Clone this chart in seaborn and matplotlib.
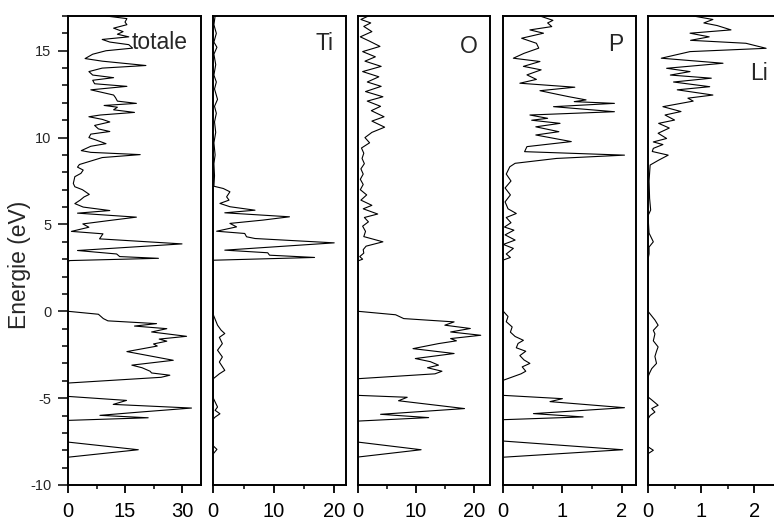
import pandas as pd
import matplotlib.pyplot as plt
import seaborn as sns

# DOS: (energy in eV, density of states) per panel
totale = [
    (17.0, 10), (16.85, 15.5), (16.65, 15), (16.5, 15.5), (16.3, 12), (16.1, 14.5),
    (15.95, 13), (15.8, 16), (15.65, 9), (15.5, 11), (15.35, 16), (15.15, 17),
    (15.0, 10), (14.8, 6.5), (14.55, 4.5), (14.4, 9), (14.15, 20.5), (14.0, 9),
    (13.8, 5.5), (13.6, 6.5), (13.45, 12), (13.3, 6.5), (13.1, 7), (12.95, 15.5),
    (12.75, 6), (12.6, 9), (12.45, 12), (12.3, 12.5), (12.1, 13), (11.97, 18),
    (11.85, 9.5), (11.75, 13), (11.6, 12), (11.45, 17.5), (11.3, 8.5), (11.2, 5.5),
    (11.05, 9), (10.9, 11), (10.7, 7), (10.5, 8), (10.35, 11), (10.2, 6),
    (10.0, 5.5), (9.85, 7.5), (9.65, 10), (9.5, 6), (9.25, 3.5), (9.15, 6),
    (9.02, 19), (8.85, 9), (8.65, 6), (8.45, 3), (8.3, 2.5), (8.13, 4),
    (7.94, 3.4), (7.75, 1.8), (7.36, 1.4), (7.17, 1.8), (7.0, 3.8), (6.73, 5.6),
    (6.58, 4.2), (6.4, 3.2), (6.2, 1.8), (6.0, 4), (5.8, 11), (5.65, 2.5),
    (5.42, 18), (5.23, 11), (5.03, 3.9), (4.84, 5.5), (4.6, 0.9), (4.46, 9.2),
    (4.17, 8.3), (3.88, 30), (3.5, 2.5), (3.3, 12.8), (3.15, 13.6), (3.05, 23.8),
    (2.92, 0.4), (2.85, 0),
    (0.0, 0), (-0.17, 8), (-0.42, 9.3), (-0.55, 10.5), (-0.71, 23.3), (-0.85, 17.5),
    (-1.0, 26), (-1.19, 22), (-1.44, 31.2), (-1.6, 24), (-1.72, 26), (-1.88, 22.5),
    (-2.0, 23.5), (-2.32, 15.5), (-2.82, 27.7), (-3.1, 16.8), (-3.25, 19.5),
    (-3.45, 21.6), (-3.55, 22), (-3.68, 26.8), (-3.8, 24.5), (-4.13, 0),
    (-4.9, 0), (-5.13, 15.4), (-5.36, 11.9), (-5.57, 32.5), (-5.8, 19),
    (-5.99, 8.4), (-6.13, 21.1), (-6.28, 0),
    (-7.53, 0), (-7.97, 18.5), (-8.4, 0),
]

titane = [
    (17.0, 0.3), (16.5, 0.1), (16.0, 0.5), (15.5, 0.1), (15.2, 0.6), (14.8, 0.1),
    (14.2, 0.4), (13.6, 0.1), (13.2, 0.5), (12.8, 0.2), (12.2, 0.7), (11.8, 0.2),
    (11.4, 0.5), (10.9, 0.2), (10.3, 0.4), (9.7, 0.1), (9.0, 0.3), (8.5, 0.1),
    (7.8, 0.2), (7.2, 0.1), (7.07, 1.65), (6.88, 2.75), (6.59, 2.2), (6.4, 2.6),
    (6.21, 1.1), (6.02, 2.75), (5.82, 6.9), (5.67, 1.9), (5.44, 12.6), (5.25, 8.2),
    (5.06, 2.75), (4.86, 3.85), (4.61, 0.55), (4.48, 5.2), (4.29, 5.5), (4.19, 6.9),
    (3.94, 20), (3.52, 1.9), (3.37, 9.0), (3.23, 9.3), (3.1, 16.75), (2.94, 0),
    (-0.2, 0), (-0.8, 0.7), (-1.09, 1.3), (-1.28, 1.9), (-1.5, 1.0), (-1.86, 1.5),
    (-2.24, 0.7), (-2.63, 1.5), (-2.92, 1.0), (-3.4, 1.9), (-3.6, 1.0), (-3.88, 0),
    (-5.0, 0), (-5.51, 0.7), (-5.7, 0.3), (-5.9, 1.1), (-6.09, 0.3), (-6.2, 0),
    (-7.75, 0), (-7.95, 0.6), (-8.2, 0),
]

oxygene = [
    (17.0, 1.8), (16.8, 0.5), (16.6, 2.2), (16.4, 1.0), (16.1, 2.4), (15.8, 0.4),
    (15.55, 2.0), (15.25, 3.8), (14.95, 0.8), (14.65, 3.0), (14.4, 1.2), (14.1, 4.0),
    (13.8, 0.8), (13.5, 3.6), (13.2, 1.6), (12.95, 4.0), (12.65, 1.3), (12.35, 4.3),
    (12.1, 1.6), (11.8, 3.9), (11.55, 2.3), (11.2, 4.5), (10.95, 2.4), (10.6, 4.6),
    (10.3, 2.4), (10.0, 1.2), (9.7, 2.0), (9.4, 0.6), (9.1, 1.0), (8.8, 0.7),
    (8.5, 1.1), (8.2, 0.5), (7.9, 0.9), (7.6, 0.4), (7.3, 0.9), (7.0, 0.4),
    (6.7, 1.5), (6.4, 0.5), (6.1, 2.4), (5.9, 0.9), (5.6, 3.4), (5.4, 1.1),
    (5.15, 1.8), (4.9, 0.8), (4.6, 1.3), (4.3, 1.0), (4.0, 4.3), (3.75, 1.4),
    (3.55, 0.9), (3.35, 1.0), (3.15, 0.3), (3.0, 0.8), (2.9, 0),
    (0.0, 0), (-0.2, 6.5), (-0.42, 7.9), (-0.61, 16.6), (-0.8, 15), (-0.99, 19.4),
    (-1.19, 16), (-1.38, 21.2), (-1.57, 16), (-1.7, 17), (-1.86, 13.9), (-2.15, 9.5),
    (-2.43, 16.6), (-2.72, 9.9), (-2.9, 12.5), (-3.1, 13.9), (-3.25, 12.0),
    (-3.45, 14.5), (-3.6, 13.3), (-3.88, 0),
    (-4.84, 0), (-4.95, 8.5), (-5.15, 7.0), (-5.6, 18.4), (-5.93, 3.9),
    (-6.12, 12.2), (-6.32, 0),
    (-7.53, 0), (-7.97, 10.9), (-8.39, 0),
]

phosphore = [
    (17.0, 0.62), (16.75, 0.84), (16.6, 0.75), (16.39, 0.82), (16.2, 0.45),
    (16.01, 0.68), (15.72, 0.31), (15.43, 0.56), (15.15, 0.6), (14.85, 0.35),
    (14.57, 0.17), (14.38, 0.62), (14.1, 0.34), (13.9, 0.64), (13.61, 0.4),
    (13.35, 0.56), (13.13, 0.28), (12.9, 1.21), (12.7, 0.62), (12.5, 0.9),
    (12.36, 1.1), (12.17, 1.4), (12.07, 1.2), (11.97, 1.88), (11.78, 0.85),
    (11.49, 1.88), (11.3, 0.45), (11.11, 0.75), (11.0, 0.48), (10.82, 0.96),
    (10.62, 0.55), (10.34, 0.94), (10.15, 0.55), (9.77, 1.15), (9.48, 0.4),
    (9.19, 0.36), (8.99, 2.05), (8.8, 0.9), (8.52, 0.2), (8.32, 0.11),
    (7.9, 0.05), (7.5, 0.13), (7.1, 0.03), (6.7, 0.12), (6.3, 0.03), (5.9, 0.08),
    (5.63, 0.22), (5.4, 0.05), (5.1, 0.13), (4.85, 0.02), (4.67, 0.18), (4.4, 0.03),
    (4.1, 0.2), (3.85, 0.0), (3.62, 0.17), (3.3, 0.05), (3.1, 0.12), (2.95, 0),
    (0.0, 0), (-0.3, 0.08), (-0.6, 0.05), (-0.9, 0.15), (-1.2, 0.12), (-1.45, 0.2),
    (-1.67, 0.34), (-1.85, 0.25), (-2.1, 0.22), (-2.3, 0.38), (-2.55, 0.28),
    (-2.8, 0.35), (-3.0, 0.45), (-3.2, 0.32), (-3.45, 0.38), (-3.6, 0.3), (-3.97, 0),
    (-4.84, 0), (-5.03, 1.0), (-5.2, 0.79), (-5.55, 2.05), (-5.89, 0.51),
    (-6.08, 1.35), (-6.24, 0),
    (-7.47, 0), (-7.97, 2.02), (-8.4, 0),
]

lithium = [
    (17.0, 0.85), (16.8, 1.22), (16.6, 1.05), (16.45, 1.3), (16.2, 1.56),
    (16.01, 0.79), (15.8, 1.15), (15.6, 0.8), (15.43, 1.84), (15.14, 2.22),
    (14.95, 0.79), (14.57, 0.25), (14.28, 1.41), (13.99, 0.35), (13.8, 0.79),
    (13.6, 0.42), (13.42, 1.19), (13.2, 0.48), (12.93, 1.16), (12.75, 0.55),
    (12.45, 1.22), (12.27, 0.75), (12.1, 0.85), (11.78, 0.28), (11.5, 0.62),
    (11.3, 0.32), (11.01, 0.5), (10.82, 0.2), (10.55, 0.4), (10.25, 0.19),
    (9.95, 0.35), (9.75, 0.1), (9.6, 0.28), (9.38, 0.1), (9.2, 0.08), (8.99, 0.38),
    (8.7, 0.2), (8.42, 0.04), (7.5, 0.02), (6.5, 0.03), (5.83, 0.05), (5.5, 0.0),
    (4.5, 0.02), (4.0, 0.1), (3.7, 0.02), (3.3, 0.02), (3.0, 0),
    (0.0, 0), (-0.5, 0.13), (-0.8, 0.19), (-1.1, 0.1), (-1.3, 0.13), (-1.7, 0.1),
    (-2.05, 0.19), (-2.3, 0.16), (-2.6, 0.13), (-3.0, 0.16), (-3.3, 0.07),
    (-3.55, 0.03), (-3.78, 0),
    (-4.93, 0), (-5.1, 0.07), (-5.41, 0.19), (-5.6, 0.07), (-5.8, 0.13),
    (-6.0, 0.04), (-6.2, 0),
    (-7.8, 0), (-8.0, 0.1), (-8.2, 0),
]

labels = ["totale", "Ti", "O", "P", "Li"]
x_limits = [35, 22, 22.8, 2.25, 2.5]
x_major = [[0, 15, 30], [0, 10, 20], [0, 10, 20], [0, 1, 2], [0, 1, 2]]
x_minor = [[7.5, 22.5], [5, 15], [5, 15], [0.5, 1.5], [0.5, 1.5, 2.5]]
y_major = [-10, -5, 0, 5, 10, 15]
y_minor = list(range(-10, 18))

sns.set_style("ticks")
plt.rcParams["font.family"] = ["Liberation Sans", "DejaVu Sans"]
plt.rcParams["axes.unicode_minus"] = False

W, H = 774, 520
fig = plt.figure(figsize=(W / 100, H / 100), dpi=100)

lefts = [68, 213.3, 358, 503.3, 648]
widths = [133, 133, 132, 133, 133]
label_pos = [(188, 49), (333, 50), (478, 53), (623, 51), (768, 80)]
bottom_px, top_px = 485, 16

for i, pts in enumerate([totale, titane, oxygene, phosphore, lithium]):
    ax = fig.add_axes([lefts[i] / W, 1 - bottom_px / H, widths[i] / W, (bottom_px - top_px) / H])
    df = pd.DataFrame(pts, columns=["energie", "dos"])
    sns.lineplot(data=df, x="dos", y="energie", orient="y", sort=False, estimator=None,
                 color="black", linewidth=0.8, ax=ax)
    ax.set_xlim(0, x_limits[i])
    ax.set_ylim(-10, 17)
    ax.set_xticks(x_major[i])
    ax.set_xticks(x_minor[i], minor=True)
    ax.set_xlabel("")
    ax.set_ylabel("")
    for s in ax.spines.values():
        s.set_linewidth(1.4)
        s.set_color("black")
    ax.tick_params(axis="x", which="major", direction="out", length=6, width=1.3,
                   labelsize=14.5, pad=6, colors="black")
    ax.tick_params(axis="x", which="minor", direction="out", length=3, width=1.3)
    if i == 0:
        ax.set_yticks(y_major)
        ax.set_yticks(y_minor, minor=True)
        ax.tick_params(axis="y", which="major", direction="out", length=7.2, width=1.3,
                       labelsize=10.5, pad=4.8)
        ax.tick_params(axis="y", which="minor", direction="out", length=4, width=1.3)
        ax.set_ylabel("Energie (eV)", fontsize=16.5)
        ax.yaxis.set_label_coords((31 - lefts[0]) / widths[0], (bottom_px - 265) / (bottom_px - top_px))
    else:
        ax.tick_params(axis="y", which="both", left=False, labelleft=False)
    lx, ly = label_pos[i]
    ax.text((lx - lefts[i]) / widths[i], (bottom_px - ly) / (bottom_px - top_px), labels[i],
            transform=ax.transAxes, ha="right", va="baseline", fontsize=16.5)

fig.savefig("out.png", dpi=100)
